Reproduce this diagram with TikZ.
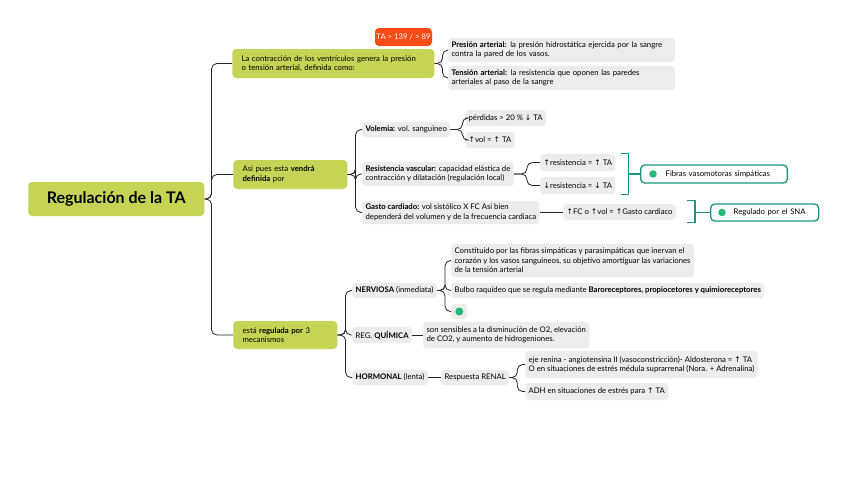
\documentclass[tikz,border=0pt]{standalone}
\usepackage{fontspec}
\setmainfont{Lato}
\newfontfamily\arrowfont{DejaVu Sans}
\usetikzlibrary{calc}

\definecolor{topicgreen}{RGB}{197,212,84}
\definecolor{leafgrey}{RGB}{236,236,236}
\definecolor{tagred}{RGB}{255,76,20}
\definecolor{sideteal}{RGB}{27,150,130}
\definecolor{dotgreen}{RGB}{40,185,120}

\newcommand{\leaffont}{\fontsize{5.8}{7.1}\selectfont}
\newcommand{\titlefont}{\fontsize{12}{14}\selectfont\bfseries}
\newcommand{\ua}{{\arrowfont ↑}}
\newcommand{\da}{{\arrowfont ↓}}

\begin{document}
\begin{tikzpicture}[x=0.75pt, y=-0.75pt,
    root/.style={fill=topicgreen, rounded corners=3pt, font=\titlefont, minimum width=132pt, minimum height=25.5pt, inner sep=0pt},
    topic/.style={fill=topicgreen, rounded corners=3pt, font=\leaffont, align=left, anchor=west, inner xsep=7pt, inner ysep=1pt},
    leaf/.style={fill=leafgrey, rounded corners=2.5pt, font=\leaffont, align=left, anchor=west, inner xsep=2.5pt, inner ysep=1pt},
    side/.style={draw=sideteal, line width=1pt, fill=white, rounded corners=3pt, font=\leaffont, align=left, anchor=west, inner xsep=4pt, inner ysep=0pt},
    tag/.style={fill=tagred, rounded corners=3pt, text=white, font=\leaffont, minimum width=42.75pt, minimum height=13.5pt, inner sep=0pt},
    branch/.style={draw=black!85, line width=0.6pt, rounded corners=4pt},
    brace/.style={draw=sideteal, line width=1.1pt}]

  \fill[white] (0,0) rectangle (848,487);
  \useasboundingbox (0,0) rectangle (848,487);

  % central topic
  \node[root, anchor=west] (ta) at (28,199) {Regulación de la TA};

  % first branch
  \node[topic, text width=137.5pt, minimum height=21.75pt] (contrac) at (232,63.5)
    {La contracción de los ventrículos genera la presión\\o tensión arterial, definida como:};
  \node[tag] (limite) at (403.5,37) {TA > 139 / > 89};
  \node[leaf, text width=165pt, minimum height=18pt] (presion) at (448,50)
    {\textbf{Presión arterial:} la presión hidrostática ejercida por la sangre\\contra la pared de los vasos.};
  \node[leaf, text width=165pt, minimum height=18pt] (tension) at (448,78)
    {\textbf{Tensión arterial:} la resistencia que oponen las paredes\\arteriales al paso de la sangre};

  % second branch
  \node[topic, text width=71.5pt, minimum height=21.75pt] (definida) at (233,174.5)
    {Asi pues esta \textbf{vendrá}\\\textbf{definida} por};
  \node[leaf, minimum height=11.25pt] (volemia) at (362,129.5)
    {\textbf{Volemia:} vol. sanguineo};
  \node[leaf, minimum height=12pt] (perdidas) at (465,118)
    {pérdidas > 20 \% \da\ TA};
  \node[leaf, minimum height=12pt] (volup) at (465,140)
    {\ua vol = \ua\ TA};
  \node[leaf, minimum height=18pt] (resist) at (362,174)
    {\textbf{Resistencia vascular:} capacidad elástica de\\contracción y dilatación (regulación local)};
  \node[leaf, minimum height=12.75pt] (resup) at (540,162.5)
    {\ua resistencia = \ua\ TA};
  \node[leaf, minimum height=12.75pt] (resdown) at (540,185.5)
    {\da resistencia = \da\ TA};
  \node[side, text width=102pt, minimum height=13.5pt] (fibras) at (640,174)
    {\hspace*{14.75pt}Fibras vasomotoras simpáticas};
  \node[leaf, minimum height=17.25pt] (gasto) at (362,212.5)
    {\textbf{Gasto cardiado:} vol sistólico X FC Asi bien\\dependerá del volumen y de la frecuencia cardiaca};
  \node[leaf, minimum height=12pt] (fc) at (563,212)
    {\ua FC o \ua vol = \ua Gasto cardiaco};
  \node[side, text width=73pt, minimum height=12.75pt] (sna) at (710,212.5)
    {\hspace*{13.25pt}Regulado por el SNA};
  \fill[dotgreen] ($(fibras.west)+(13,0)$) circle (2.8pt);
  \fill[dotgreen] ($(sna.west)+(12,0)$) circle (2.8pt);

  % third branch
  \node[topic, text width=64pt, minimum height=21pt] (mecanismos) at (233,335)
    {está \textbf{regulada por} 3\\mecanismos};
  \node[leaf, minimum height=11.25pt] (nerviosa) at (352,290.5)
    {\textbf{NERVIOSA} (inmediata)};
  \node[leaf, minimum height=24.75pt] (constituido) at (451,260.5)
    {Constituido por las fibras simpáticas y parasimpáticas que inervan el\\corazón y los vasos sanguineos, su objetivo amortiguar las variaciones\\de la tensión arterial};
  \node[leaf, minimum height=11.25pt] (bulbo) at (451,290.5)
    {Bulbo raquídeo que se regula mediante \textbf{Baroreceptores, propiocetores y quimioreceptores}};
  \node[leaf, minimum width=12pt, minimum height=11.25pt, inner sep=0pt] (nervdot) at (451,311.5) {};
  \fill[dotgreen] (nervdot.center) circle (3pt);
  \node[leaf, minimum height=12pt] (quimica) at (352,335)
    {REG. \textbf{QUÍMICA}};
  \node[leaf, minimum height=19.5pt] (sensibles) at (423,335)
    {son sensibles a la disminución de O2, elevación\\de CO2, y aumento de hidrogeniones.};
  \node[leaf, minimum height=11.25pt] (hormonal) at (352,377.5)
    {\textbf{HORMONAL} (lenta)};
  \node[leaf, minimum height=11.25pt] (renal) at (441,377.5)
    {Respuesta RENAL};
  \node[leaf, minimum height=20.25pt] (eje) at (525,364.5)
    {eje renina - angiotensina II (vasoconstricción)- Aldosterona = \ua\ TA\\O en situaciones de estrés médula suprarrenal (Nora. + Adrenalina)};
  \node[leaf, minimum height=12.75pt] (adh) at (525,391.5)
    {ADH en situaciones de estrés para \ua\ TA};

  % connectors
  \coordinate (s0) at ($(ta.east)+(7,0)$);
  \foreach \c in {contrac,definida,mecanismos}
    \draw[branch] (ta.east) -- (s0) |- (\c.west);
  \coordinate (s1) at ($(contrac.east)+(8,0)$);
  \foreach \c in {presion,tension}
    \draw[branch] (contrac.east) -- (s1) |- (\c.west);
  \coordinate (s2) at ($(definida.east)+(8,0)$);
  \foreach \c in {volemia,resist,gasto}
    \draw[branch] (definida.east) -- (s2) |- (\c.west);
  \coordinate (s3) at ($(volemia.east)+(12,0)$);
  \foreach \c in {perdidas,volup}
    \draw[branch] (volemia.east) -- (s3) |- (\c.west);
  \coordinate (s4) at ($(resist.east)+(13,0)$);
  \foreach \c in {resup,resdown}
    \draw[branch] (resist.east) -- (s4) |- (\c.west);
  \draw[branch] (gasto.east) -- (gasto.east -| fc.west);
  \coordinate (s5) at ($(mecanismos.east)+(8,0)$);
  \foreach \c in {nerviosa,quimica,hormonal}
    \draw[branch] (mecanismos.east) -- (s5) |- (\c.west);
  \coordinate (s6) at ($(nerviosa.east)+(8,0)$);
  \foreach \c in {constituido,bulbo,nervdot}
    \draw[branch] (nerviosa.east) -- (s6) |- (\c.west);
  \draw[branch] (quimica.east) -- (sensibles.west);
  \draw[branch] (hormonal.east) -- (renal.west);
  \coordinate (s7) at ($(renal.east)+(8,0)$);
  \foreach \c in {eje,adh}
    \draw[branch] (renal.east) -- (s7) |- (\c.west);

  % side brackets
  \coordinate (b1t) at ($(resup.north east)+(5,0)$);
  \coordinate (b1b) at (b1t |- resdown.south);
  \draw[brace] (b1t) -- ++(8,0) -- ($(b1b)+(8,0)$) -- (b1b);
  \coordinate (b1m) at ($(b1t)!0.5!(b1b)+(8,0)$);
  \draw[brace] (b1m |- fibras.west) -- (fibras.west);
  \coordinate (b2t) at ($(fc.north east)+(11,-3)$);
  \coordinate (b2b) at ($(fc.south east)+(11,2)$);
  \draw[brace] (b2t) -- ++(8,0) -- ($(b2b)+(8,0)$) -- (b2b);
  \coordinate (b2m) at ($(b2t)!0.5!(b2b)+(8,0)$);
  \draw[brace] (b2m |- sna.west) -- (sna.west);
\end{tikzpicture}
\end{document}
